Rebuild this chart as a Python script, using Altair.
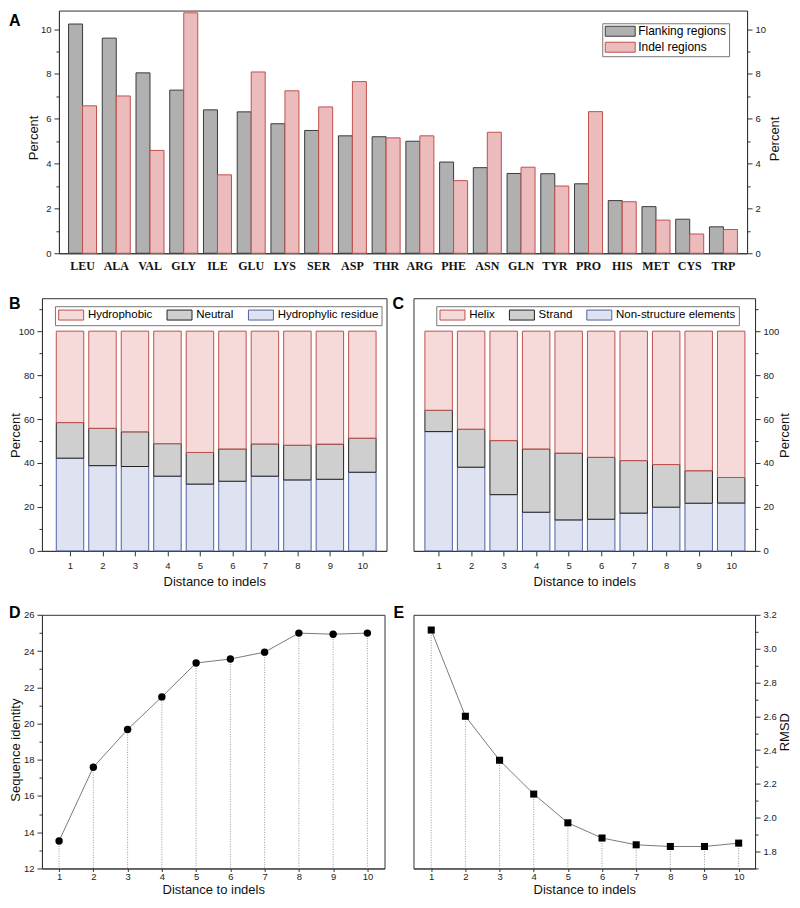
import altair as alt
import pandas as pd

# ---------------- data ----------------
AA = ['LEU', 'ALA', 'VAL', 'GLY', 'ILE', 'GLU', 'LYS', 'SER', 'ASP', 'THR',
      'ARG', 'PHE', 'ASN', 'GLN', 'TYR', 'PRO', 'HIS', 'MET', 'CYS', 'TRP']
FLANKING = [10.23, 9.60, 8.05, 7.28, 6.40, 6.31, 5.78, 5.48, 5.24, 5.20,
            5.00, 4.07, 3.82, 3.56, 3.55, 3.10, 2.35, 2.08, 1.52, 1.18]
INDEL = [6.58, 7.02, 4.59, 10.73, 3.50, 8.09, 7.25, 6.53, 7.66, 5.15,
         5.24, 3.24, 5.40, 3.84, 3.00, 6.32, 2.30, 1.48, 0.86, 1.06]
SERIES_A = ['Flanking regions', 'Indel regions']

DIST = [1, 2, 3, 4, 5, 6, 7, 8, 9, 10]
HYDROPHILIC = [42.2, 38.8, 38.4, 34.0, 30.4, 31.7, 34.0, 32.3, 32.6, 35.8]
NEUTRAL = [16.2, 17.0, 15.8, 14.8, 14.4, 14.7, 14.7, 15.8, 16.0, 15.5]
HYDROPHOBIC = [41.6, 44.2, 45.8, 51.2, 55.2, 53.6, 51.3, 51.9, 51.4, 48.7]
CAT_B = ['Hydrophobic', 'Neutral', 'Hydrophylic residue']

NONSTRUCT = [54.3, 38.1, 25.6, 17.6, 14.1, 14.4, 17.2, 19.9, 21.7, 21.8]
STRAND = [9.7, 17.3, 24.6, 28.8, 30.4, 28.2, 23.9, 19.4, 14.8, 11.6]
HELIX = [36.0, 44.6, 49.8, 53.6, 55.5, 57.4, 58.9, 60.7, 63.5, 66.6]
CAT_C = ['Helix', 'Strand', 'Non-structure elements']

SEQ_ID = [13.52, 17.59, 19.67, 21.47, 23.34, 23.56, 23.94, 24.99, 24.93, 24.99]
RMSD = [3.11, 2.60, 2.34, 2.14, 1.97, 1.88, 1.84, 1.83, 1.83, 1.85]

# ---------------- style ----------------
FONT = 'Liberation Sans'
SERIF = 'Liberation Serif'
FRAME = '#333333'
GREY_F, GREY_S = '#b0b0b0', '#3a3a3a'
PINK_F, RED_S = '#ecbcbc', '#c0504d'
RED_F = '#f6dada'
NEU_F, NEU_S = '#cfcfcf', '#222222'
BLUE_F, BLUE_S = '#dfe2f0', '#5060a0'

one = pd.DataFrame({'k': [0]})


def yaxis(orient, values, major, title, tx, ty, fmt=None):
    kw = dict(orient=orient, values=values, title=title, grid=False,
              tickSize={'condition': {'test': major, 'value': 5}, 'value': 3},
              labelExpr="(" + major + ") ? datum.label : ''",
              labelPadding=3, labelOverlap=False, labelFlush=False,
              titleAngle=270, titleAlign='center', titleBaseline='alphabetic',
              titleX=tx, titleY=ty, domainColor=FRAME, tickColor=FRAME)
    if fmt:
        kw['format'] = fmt
    return alt.Axis(**kw)


def xaxis(tick, pad, ty):
    return alt.Axis(values=DIST, title='Distance to indels', grid=False, format='d',
                    tickSize=tick, labelPadding=pad, titleY=ty, titleBaseline='top',
                    labelFlush=False, labelOverlap=False, domainColor=FRAME, tickColor=FRAME)


def letter(ch, x, y):
    return alt.Chart(one).mark_text(text=ch, font=FONT, fontWeight='bold', fontSize=16,
                                    align='left', baseline='alphabetic', color='black'
                                    ).encode(x=alt.value(x), y=alt.value(y))


def bounds(x1, x2, y1, y2):
    return alt.Chart(one).mark_rect(opacity=0).encode(
        x=alt.value(x1), x2=alt.value(x2), y=alt.value(y1), y2=alt.value(y2))


VIEW = alt.ViewBackground(stroke=FRAME, strokeWidth=1)

# ---------------- panel A ----------------
df_a = pd.DataFrame({'aa': AA * 2,
                     'series': [SERIES_A[0]] * len(AA) + [SERIES_A[1]] * len(AA),
                     'value': FLANKING + INDEL})
ysc_a = alt.Scale(domain=[0, 10.83], nice=False, zero=True)
legend_a = alt.Legend(title=None, orient='none', legendX=544, legendY=12.7, direction='vertical',
                      fillColor='white', strokeColor='#777777', padding=2,
                      symbolType='M-1,-1H5V1H-1Z', symbolSize=100, symbolStrokeWidth=1,
                      labelFont=FONT, labelFontSize=12, labelColor='black', labelOffset=22,
                      rowPadding=2)
bars_a = alt.Chart(df_a).mark_bar(strokeWidth=1).encode(
    x=alt.X('aa:N', sort=AA, scale=alt.Scale(paddingInner=0.17, paddingOuter=0.285),
            axis=alt.Axis(title=None, labelAngle=0, ticks=False, tickSize=0, labelFont=SERIF,
                          labelFontWeight='bold', labelFontSize=12, labelPadding=7,
                          labelColor='#111111', domainColor=FRAME)),
    xOffset=alt.XOffset('series:N', sort=SERIES_A),
    y=alt.Y('value:Q', scale=ysc_a,
            axis=yaxis('left', list(range(0, 11)), 'datum.value % 2 === 0', 'Percent', -21, 127)),
    fill=alt.Fill('series:N', scale=alt.Scale(domain=SERIES_A, range=[GREY_F, PINK_F]), legend=legend_a),
    stroke=alt.Stroke('series:N', scale=alt.Scale(domain=SERIES_A, range=[GREY_S, RED_S]), legend=legend_a),
)
right_a = alt.Chart(df_a).mark_point(opacity=0, size=1).encode(
    x=alt.value(0),
    y=alt.Y('value:Q', scale=ysc_a,
            axis=yaxis('right', list(range(0, 11)), 'datum.value % 2 === 0', 'Percent', 31, 128)),
)
panel_a = alt.layer(bars_a, right_a, letter('A', -50, 15), bounds(0, 1, -1, 264)).resolve_axis(
    y='independent').properties(width=689, height=243, view=VIEW)

spacer = bounds(0, 1, 0, 1).properties(
    width=17, height=10, view=alt.ViewBackground(stroke='transparent'))


# ---------------- panels B, C ----------------
def stacked_df(segs):
    rows = []
    for i, d in enumerate(DIST):
        for o, (cat, vals) in enumerate(segs):
            rows.append({'dist': d, 'cat': cat, 'value': vals[i], 'ord': o})
    return pd.DataFrame(rows)


df_b = stacked_df([(CAT_B[2], HYDROPHILIC), (CAT_B[1], NEUTRAL), (CAT_B[0], HYDROPHOBIC)])
df_c = stacked_df([(CAT_C[2], NONSTRUCT), (CAT_C[1], STRAND), (CAT_C[0], HELIX)])


def legend_h(lx):
    return alt.Legend(title=None, orient='none', legendX=lx, legendY=8, direction='horizontal',
                      fillColor='white', strokeColor='#777777', padding=3,
                      symbolType='M-1,-1H4V1H-1Z', symbolSize=100, symbolStrokeWidth=1,
                      labelFont=FONT, labelFontSize=11.5, labelColor='black', labelOffset=18.5,
                      columnPadding=11.5)


def stacked(df, cats, xdom, yorient, tx, lx):
    return alt.Chart(df).mark_bar(size=27.5, strokeWidth=1, orient='vertical').encode(
        x=alt.X('dist:Q', scale=alt.Scale(domain=xdom, nice=False, zero=False), axis=xaxis(5, 5, 25)),
        y=alt.Y('value:Q', stack='zero', scale=alt.Scale(domain=[0, 115], nice=False),
                axis=yaxis(yorient, list(range(0, 111, 10)), 'datum.value % 20 === 0', 'Percent', tx, 137)),
        fill=alt.Fill('cat:N', scale=alt.Scale(domain=cats, range=[RED_F, NEU_F, BLUE_F]), legend=legend_h(lx)),
        stroke=alt.Stroke('cat:N', scale=alt.Scale(domain=cats, range=[RED_S, NEU_S, BLUE_S]), legend=legend_h(lx)),
        order=alt.Order('ord:Q', sort='ascending'),
    )


panel_b = alt.layer(stacked(df_b, CAT_B, [0.29, 10.59], 'left', -22.5, 13),
                    letter('B', -33, 10.7), bounds(-33, 0, -22, 293)
                    ).properties(width=345, height=253, view=VIEW)
panel_c = alt.layer(stacked(df_c, CAT_C, [0.38, 10.58], 'right', 33, 22.8),
                    letter('C', -21, 10.7)
                    ).properties(width=342, height=253, view=VIEW)


# ---------------- panels D, E ----------------
def lineplot(values, ydom, yorient, values_ax, major, title, tx, ty, fmt, xdom, shape):
    df = pd.DataFrame({'dist': DIST, 'value': values})
    base = alt.Chart(df).encode(
        x=alt.X('dist:Q', scale=alt.Scale(domain=xdom, nice=False, zero=False), axis=xaxis(3, 0, 15)),
        y=alt.Y('value:Q', scale=alt.Scale(domain=ydom, nice=False, zero=False),
                axis=yaxis(yorient, values_ax, major, title, tx, ty, fmt)),
    )
    drops = base.mark_rule(color='#9a9a9a', strokeDash=[1, 1.5], strokeWidth=1).encode(y2=alt.datum(ydom[0]))
    line = base.mark_line(color='#7a7a7a', strokeWidth=1)
    if shape == 'circle':
        pts = base.mark_circle(size=55, color='black', opacity=1)
    else:
        pts = base.mark_square(size=50, color='black', opacity=1)
    return drops, line, pts


d_layers = lineplot(SEQ_ID, [12, 26], 'left', list(range(12, 27)), 'datum.value % 2 === 0',
                    'Sequence identity', -22.5, 135, None, [0.5, 10.5], 'circle')
e_vals = [round(1.7 + 0.1 * i, 1) for i in range(16)]
e_layers = lineplot(RMSD, [1.7, 3.2], 'right', e_vals, 'round(datum.value * 10) % 2 === 0',
                    'RMSD', 33, 117, '.1f', [0.48, 10.48], 'square')

panel_d = alt.layer(*d_layers, letter('D', -33, 3.3), bounds(-33, 0, -22, 299)
                    ).properties(width=343, height=254, view=VIEW)
panel_e = alt.layer(*e_layers, letter('E', -20, 3.3)
                    ).properties(width=342, height=254, view=VIEW)

IND = dict(fill='independent', stroke='independent')

row1 = alt.hconcat(spacer, panel_a, spacing=0, bounds='flush').resolve_scale(**IND).resolve_legend(**IND)
row2 = alt.hconcat(panel_b, panel_c, spacing=27, bounds='flush').resolve_scale(**IND).resolve_legend(**IND)
row3 = alt.hconcat(panel_d, panel_e, spacing=29, bounds='flush')

chart = alt.vconcat(row1, row2, row3, spacing=0).resolve_scale(**IND).resolve_legend(**IND).properties(
    padding=0).configure(
    font=FONT
).configure_axis(
    labelFont=FONT, titleFont=FONT, labelFontSize=9.5, titleFontSize=13, titleFontWeight='normal',
    labelColor='#222222', titleColor='#111111', grid=False
).configure_view(stroke=FRAME)

chart.save("out.html", embed_options={"renderer": "svg", "actions": False})
